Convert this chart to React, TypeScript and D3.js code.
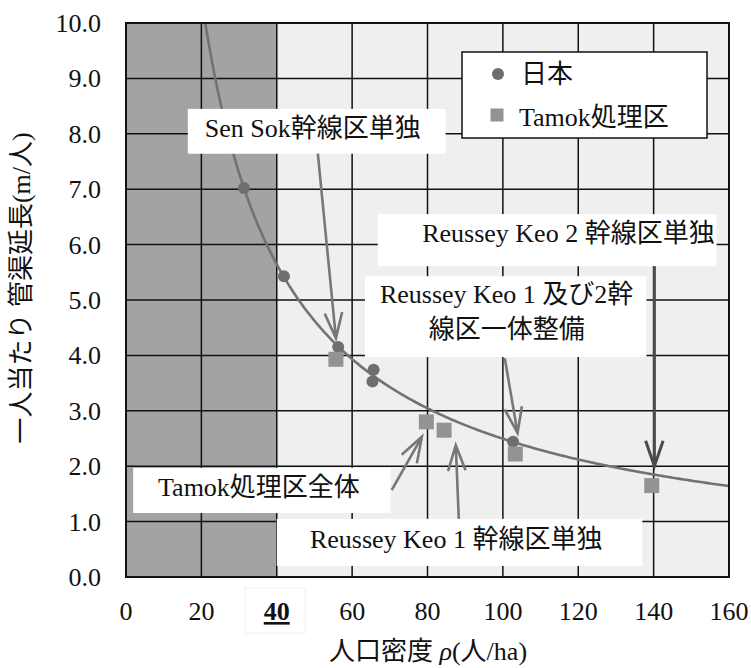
import React from "react";
import * as d3 from "d3";

// Population density (人/ha) and per-capita sewer length (m/人)
const japanDensity = [31.3, 41.9, 56.3, 65.7, 65.4, 102.7];
const japanLength = [7.02, 5.43, 4.15, 3.74, 3.53, 2.44];
const tamokDensity = [55.7, 79.7, 84.4, 103.3, 139.5];
const tamokLength = [3.93, 2.8, 2.65, 2.22, 1.65];

const xTicks = [0, 20, 40, 60, 80, 100, 120, 140, 160];
const yTicks = [0, 1, 2, 3, 4, 5, 6, 7, 8, 9, 10];
const thresholdDensity = 40;

const legendLabels = ["日本", "Tamok処理区"];

// Callouts, positioned in data units
type Callout = {
  lines: string[];
  box: [number, number, number, number]; // x0, x1, yTop, yBottom
  textX: number;
  baselines: number[];
  anchor: "start" | "middle" | "end";
  from: [number, number];
  to: [number, number];
  strong?: boolean;
};

const callouts: Callout[] = [
  {
    lines: ["Sen Sok幹線区単独"],
    box: [16.4, 84.8, 8.45, 7.64],
    textX: 20.9,
    baselines: [7.94],
    anchor: "start",
    from: [50.9, 7.64],
    to: [55.7, 4.31],
  },
  {
    lines: ["Reussey Keo 2 幹線区単独"],
    box: [66.8, 156.7, 6.55, 5.61],
    textX: 156.2,
    baselines: [6.05],
    anchor: "end",
    from: [140.2, 5.61],
    to: [140.2, 2.0],
    strong: true,
  },
  {
    lines: ["Reussey Keo 1 及び2幹", "線区一体整備"],
    box: [63.4, 138.1, 5.43, 3.97],
    textX: 101.0,
    baselines: [4.95, 4.31],
    anchor: "middle",
    from: [100.5, 3.95],
    to: [103.9, 2.6],
  },
  {
    lines: ["Tamok処理区全体"],
    box: [1.9, 70.2, 1.97, 1.155],
    textX: 8.5,
    baselines: [1.46],
    anchor: "start",
    from: [70.5, 1.57],
    to: [78.5, 2.53],
  },
  {
    lines: ["Reussey Keo 1 幹線区単独"],
    box: [40.0, 137.0, 1.05, 0.2],
    textX: 48.8,
    baselines: [0.52],
    anchor: "start",
    from: [88.3, 1.05],
    to: [87.5, 2.38],
  },
];

const W = 751;
const H = 668;
const M = { left: 126, right: 729, top: 23, bottom: 577 };
const FONT = "Liberation Serif, Times New Roman, DejaVu Serif, Noto Sans CJK JP, serif";

// Power-law trend fitted to the Japanese data (least squares in log space)
function powerFit(xs: number[], ys: number[]) {
  const lx = xs.map(Math.log);
  const ly = ys.map(Math.log);
  const mx = d3.mean(lx)!;
  const my = d3.mean(ly)!;
  const sxy = d3.sum(lx, (v, i) => (v - mx) * (ly[i] - my));
  const sxx = d3.sum(lx, (v) => (v - mx) * (v - mx));
  const b = sxy / sxx;
  const a = Math.exp(my - b * mx);
  return (x: number) => a * Math.pow(x, b);
}

function arrowPath(x1: number, y1: number, x2: number, y2: number, len = 27, half = 0.33) {
  const ang = Math.atan2(y2 - y1, x2 - x1);
  const p1 = [x2 - len * Math.cos(ang - half), y2 - len * Math.sin(ang - half)];
  const p2 = [x2 - len * Math.cos(ang + half), y2 - len * Math.sin(ang + half)];
  return `M${x1},${y1}L${x2},${y2}M${p1[0]},${p1[1]}L${x2},${y2}L${p2[0]},${p2[1]}`;
}

export default function App() {
  const x = d3.scaleLinear().domain([0, 160]).range([M.left, M.right]);
  const y = d3.scaleLinear().domain([0, 10]).range([M.bottom, M.top]);

  const trend = powerFit(japanDensity, japanLength);
  const samples = d3.range(15, 160.01, 0.5);
  const line = d3
    .line<number>()
    .x((d) => x(d))
    .y((d) => y(trend(d)))
    .curve(d3.curveLinear);

  const sq = 15;
  const textStyle = { fontFamily: FONT };

  return (
    <svg width={W} height={H} style={{ position: "absolute", left: 0, top: 0, background: "#fff", fontFamily: FONT }}>
      <defs>
        <clipPath id="plot-clip">
          <rect x={M.left} y={M.top} width={M.right - M.left} height={M.bottom - M.top} />
        </clipPath>
      </defs>

      {/* background bands */}
      <rect x={x(0)} y={M.top} width={x(thresholdDensity) - x(0)} height={M.bottom - M.top} fill="#a3a3a3" />
      <rect x={x(thresholdDensity)} y={M.top} width={M.right - x(thresholdDensity)} height={M.bottom - M.top} fill="#efefef" />

      {/* grid */}
      {xTicks.map((t) => (
        <line key={"gx" + t} x1={x(t)} x2={x(t)} y1={M.top} y2={M.bottom} stroke="#111" strokeWidth={1.5} />
      ))}
      {yTicks.map((t) => (
        <line key={"gy" + t} x1={M.left} x2={M.right} y1={y(t)} y2={y(t)} stroke="#111" strokeWidth={1.5} />
      ))}

      {/* trend curve */}
      <path d={line(samples) || ""} fill="none" stroke="#727272" strokeWidth={2.6} clipPath="url(#plot-clip)" />

      {/* Japan */}
      {japanDensity.map((d, i) => (
        <circle key={"j" + i} cx={x(d)} cy={y(japanLength[i])} r={6} fill="#6e6e6e" />
      ))}
      {/* Tamok */}
      {tamokDensity.map((d, i) => (
        <rect key={"t" + i} x={x(d) - sq / 2} y={y(tamokLength[i]) - sq / 2} width={sq} height={sq} fill="#939393" />
      ))}

      {/* callout boxes and text */}
      {callouts.map((c, i) => (
        <g key={"c" + i}>
          <rect x={x(c.box[0])} y={y(c.box[2])} width={x(c.box[1]) - x(c.box[0])} height={y(c.box[3]) - y(c.box[2])} fill="#fff" />
          {c.lines.map((l, j) => (
            <text key={j} x={x(c.textX)} y={y(c.baselines[j])} fontSize={26} textAnchor={c.anchor} fill="#111" style={textStyle}>
              {l}
            </text>
          ))}
        </g>
      ))}

      {/* arrows */}
      {callouts.map((c, i) => (
        <path
          key={"a" + i}
          d={arrowPath(x(c.from[0]), y(c.from[1]), x(c.to[0]), y(c.to[1]))}
          fill="none"
          stroke={c.strong ? "#4a4a4a" : "#777"}
          strokeWidth={c.strong ? 3 : 2.6}
          strokeLinejoin="miter"
        />
      ))}

      {/* legend */}
      <g>
        <rect x={462} y={52} width={245} height={86} fill="#fff" stroke="#111" strokeWidth={1.5} />
        <circle cx={498} cy={74} r={6} fill="#6e6e6e" />
        <text x={521} y={83} fontSize={26} fill="#111" style={textStyle}>{legendLabels[0]}</text>
        <rect x={497 - 6.5} y={115 - 6.5} width={13} height={13} fill="#939393" />
        <text x={519} y={126} fontSize={26} fill="#111" style={textStyle}>{legendLabels[1]}</text>
      </g>

      {/* plot frame */}
      <rect x={M.left} y={M.top} width={M.right - M.left} height={M.bottom - M.top} fill="none" stroke="#111" strokeWidth={2} />

      {/* y tick labels */}
      {yTicks.map((t) => (
        <text key={"yl" + t} x={101} y={y(t) + 9} fontSize={26} textAnchor="end" fill="#111" style={textStyle}>
          {d3.format(".1f")(t)}
        </text>
      ))}

      {/* x tick labels */}
      <rect x={245} y={588} width={60} height={45} fill="#fff" stroke="#f0f0f0" strokeWidth={1} />
      {xTicks.map((t) => (
        <text
          key={"xl" + t}
          x={x(t)}
          y={620}
          fontSize={26}
          textAnchor="middle"
          fill="#111"
          style={textStyle}
          fontWeight={t === thresholdDensity ? "bold" : "normal"}
          textDecoration={t === thresholdDensity ? "underline" : undefined}
        >
          {t}
        </text>
      ))}

      {/* axis titles */}
      <text x={428} y={660} fontSize={26} textAnchor="middle" fill="#111" style={textStyle}>
        人口密度 <tspan fontStyle="italic">ρ</tspan>(人/ha)
      </text>
      <text transform="translate(30,288) rotate(-90)" fontSize={26} textAnchor="middle" fill="#111" style={textStyle}>
        一人当たり 管渠延長(m/人)
      </text>
    </svg>
  );
}
